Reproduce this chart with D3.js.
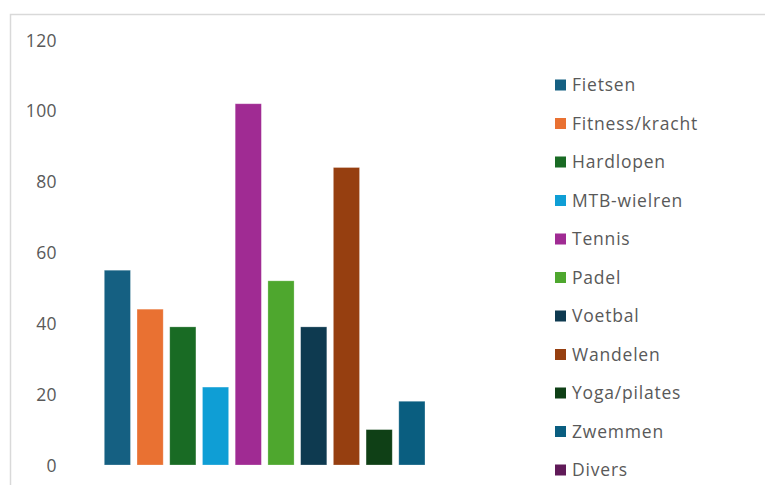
<!DOCTYPE html>
<html>
<head>
<meta charset="utf-8">
<script src="https://cdn.jsdelivr.net/npm/d3@7"></script>
<style>
  html, body { margin: 0; padding: 0; background: #fff; }
  svg { display: block; }
  text { font-family: "Open Sans", sans-serif; fill: #595959; }
</style>
</head>
<body>
<div class="chart"></div>
<script>
// sporten en aantallen
const categories = ["Fietsen", "Fitness/kracht", "Hardlopen", "MTB-wielren", "Tennis", "Padel",
                    "Voetbal", "Wandelen", "Yoga/pilates", "Zwemmen", "Divers"]
const values = [55, 44, 39, 22, 102, 52, 39, 84, 10, 18, 0]
const colours = ["#156082", "#e97132", "#196b24", "#0f9ed5", "#a02b93", "#4ea72e",
                 "#0e3a50", "#963f10", "#0f4016", "#0a5e80", "#601a58"]
const yTicks = [0, 20, 40, 60, 80, 100, 120]

const width = 765, height = 485

const svg = d3.select(".chart").append("svg")
  .attr("width", width)
  .attr("height", height)

// chart border (only top + left visible)
svg.append("path")
  .attr("d", `M10.5,${height + 2} L10.5,14.5 L${width + 2},14.5`)
  .attr("fill", "none")
  .attr("stroke", "#d9d9d9")
  .attr("stroke-width", 1.5)

const y = d3.scaleLinear().domain([0, 120]).range([465, 40])

const x = d3.scaleBand()
  .domain(categories)
  .range([104.3, 457.7])
  .paddingInner(0.2)
  .paddingOuter(0)

// y axis labels only, no line
const yAxis = d3.axisLeft(y).tickValues(yTicks).tickSize(0).tickPadding(0)
const gy = svg.append("g")
  .attr("transform", "translate(57,0)")
  .call(yAxis)
gy.select(".domain").remove()
gy.selectAll("text")
  .attr("font-size", 17.5)
  .attr("font-family", "Open Sans, sans-serif")
  .attr("fill", "#595959")
  .attr("letter-spacing", 0.4)
  .attr("dy", "0.35em")

svg.append("g").selectAll("rect")
  .data(values)
  .enter()
  .append("rect")
  .attr("x", (d, i) => x(categories[i]))
  .attr("width", x.bandwidth())
  .attr("y", d => y(d))
  .attr("height", d => y(0) - y(d))
  .attr("fill", (d, i) => colours[i])
  .attr("stroke", "rgba(255,255,255,0.35)")
  .attr("stroke-width", 0.75)

// legend
const ly = d3.scaleLinear().domain([0, categories.length - 1]).range([85, 470])
const legend = svg.append("g").selectAll("g")
  .data(categories)
  .enter()
  .append("g")
  .attr("transform", (d, i) => `translate(555,${ly(i)})`)

legend.append("rect")
  .attr("x", 0)
  .attr("y", -5.5)
  .attr("width", 11)
  .attr("height", 11)
  .attr("fill", (d, i) => colours[i])

legend.append("text")
  .attr("x", 17)
  .attr("dy", "0.35em")
  .attr("font-size", 17.5)
  .attr("letter-spacing", 0.8)
  .text(d => d)
</script>
</body>
</html>
